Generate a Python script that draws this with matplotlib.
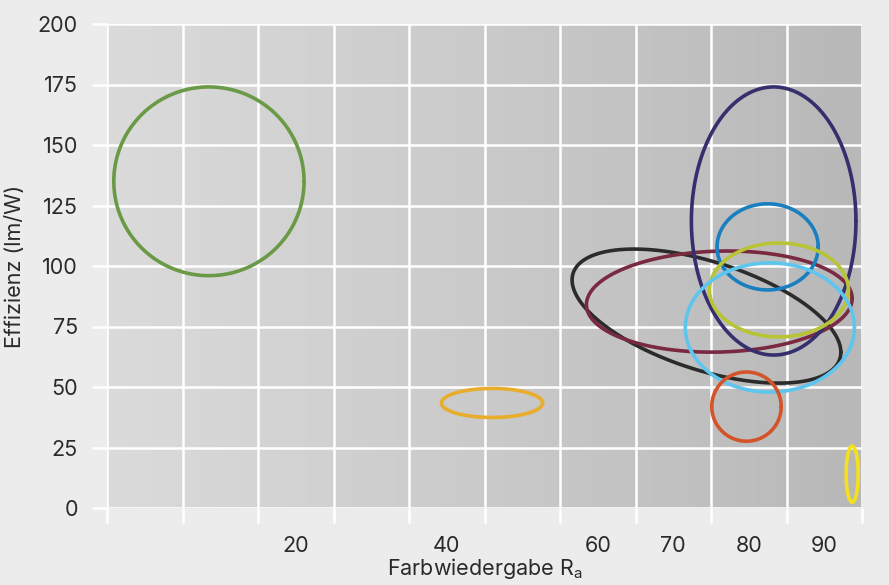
import numpy as np
import matplotlib.pyplot as plt
from matplotlib.colors import LinearSegmentedColormap

plt.rcParams['font.family'] = ['Inter', 'DejaVu Sans']
plt.rcParams['mathtext.fontset'] = 'custom'
plt.rcParams['mathtext.rm'] = 'Inter'

# x-Achse in Rasterfeldern (0..10), Beschriftung in der Feldmitte
x_label_pos = [2.5, 4.5, 6.5, 7.5, 8.5, 9.5]
x_labels = ['20', '40', '60', '70', '80', '90']
y_ticks = [0, 25, 50, 75, 100, 125, 150, 175, 200]

# Lichtquellen-Bereiche: Mittelpunkt, halbe Ausdehnung, Neigung (Phase)
cx = [1.35, 5.10, 7.94, 8.11, 8.83, 8.75, 8.90, 8.78, 8.47, 9.87]
cy = [135.0, 43.4, 79.3, 85.3, 118.6, 107.9, 90.1, 74.6, 41.9, 14.0]
half_x = [1.26, 0.67, 1.78, 1.76, 1.09, 0.67, 0.92, 1.12, 0.46, 0.08]
half_y = [39.0, 6.0, 27.7, 20.9, 55.4, 17.8, 19.4, 26.7, 14.3, 11.6]
phase = [np.pi / 2, np.pi / 2, 2.14, 1.51, np.pi / 2, np.pi / 2,
         np.pi / 2, np.pi / 2, np.pi / 2, np.pi / 2]
colors = ['#6a9a45', '#e8ad2c', '#2b2b2b', '#7a2a40', '#352f6e',
          '#1a7fc0', '#b8c435', '#5ec5ee', '#d4542a', '#f5e01e']

fig = plt.figure(figsize=(8.89, 5.85), dpi=100)
fig.patch.set_facecolor('#ececec')
ax = fig.add_axes([107 / 889, 77 / 585, 755 / 889, 484 / 585])

# Hintergrund-Verlauf hell -> dunkel
cmap = LinearSegmentedColormap.from_list('bg', ['#dbdbdb', '#cacaca', '#b8b8b8'])
grad = np.linspace(0, 1, 256).reshape(1, -1)
ax.imshow(grad, extent=[0, 10, 0, 200], aspect='auto', cmap=cmap, zorder=0)

t = np.linspace(0, 2 * np.pi, 400)
for i in range(len(cx)):
    xs = cx[i] + half_x[i] * np.cos(t)
    ys = cy[i] + half_y[i] * np.cos(t + phase[i])
    ax.plot(xs, ys, color=colors[i], lw=2.6, zorder=3, solid_capstyle='round')

ax.set_xlim(0, 10)
ax.set_ylim(0, 200)
ax.set_xticks(np.arange(0, 11))
ax.set_xticklabels([])
ax.set_xticks(x_label_pos, minor=True)
ax.set_xticklabels(x_labels, minor=True)
ax.set_yticks(y_ticks)
ax.grid(True, color='white', lw=1.8, zorder=1)
for s in ax.spines.values():
    s.set_visible(False)

ax.tick_params(axis='both', which='major', color='white', length=11, width=1.8,
               labelsize=15.5, labelcolor='#2a2a2a', pad=10)
ax.tick_params(axis='x', which='minor', length=0, labelsize=15.5,
               labelcolor='#2a2a2a', pad=20)

ax.set_xlabel('Farbwiedergabe R$_\\mathregular{a}$', fontsize=15.5, color='#2a2a2a', labelpad=0)
ax.set_ylabel('Effizienz (lm/W)', fontsize=15.5, color='#2a2a2a', labelpad=9)

fig.savefig('out.png', dpi=100, facecolor=fig.get_facecolor())
